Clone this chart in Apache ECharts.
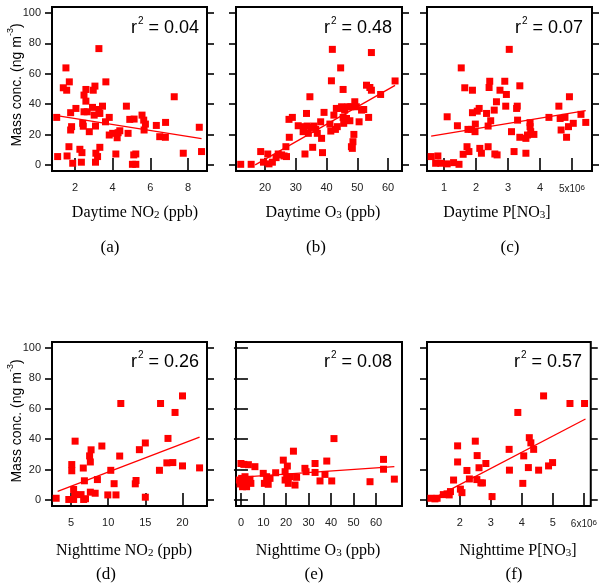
<!DOCTYPE html>
<html><head><meta charset="utf-8">
<script src="https://cdn.jsdelivr.net/npm/echarts@6/dist/echarts.min.js"></script>
<style>html,body{margin:0;padding:0;background:#fff}#c{width:600px;height:584px}</style>
</head><body><div id="c"></div>
<script>
// ---------- DATA ----------
const dayNO2 = [[1.03,31.3],[1.08,5.5],[1.52,63.9],[1.38,50.8],[1.56,49.2],[1.70,54.7],[1.58,5.9],[1.68,12],[1.77,34.4],[1.82,25.2],[1.77,23],[1.88,1.1],[2.05,37.2],[2.26,10.3],[2.37,8.1],[2.34,1.8],[2.41,27.4],[2.44,25.5],[2.48,35],[2.48,46],[2.58,49.7],[2.58,42],[2.65,35],[2.76,21.9],[2.93,37.9],[2.97,49.2],[3.06,51.9],[3.02,32.8],[3.09,25.6],[3.11,7.7],[3.09,1.8],[3.20,5.5],[3.27,76.6],[3.27,36.5],[3.32,33.9],[3.32,11.6],[3.46,38.7],[3.64,54.7],[3.62,28.4],[3.82,31.3],[3.82,19.7],[4.0,20.8],[4.17,7.2],[4.24,17.9],[4.29,21.2],[4.38,22.5],[4.73,38.7],[4.82,20.8],[4.91,30],[5.05,0.4],[5.14,30.2],[5.12,6.6],[5.23,7.2],[5.23,0.4],[5.56,32.8],[5.65,29.5],[5.67,23],[5.74,26.9],[6.32,26],[6.50,18.6],[6.80,18.2],[6.81,28],[7.27,44.9],[7.75,7.7],[8.6,24.8],[8.72,8.8]];
const dayO3 = [[12.1,0.4],[15.5,0.4],[18.6,8.8],[19.5,1.8],[20.9,7.2],[21.3,0.7],[22.4,1.8],[23.6,4.8],[24.3,7.2],[25.4,6.6],[26.2,5.9],[26.8,12],[27.0,5.5],[27.9,18.2],[27.8,30],[28.9,31.3],[30.8,25.8],[32.4,21.9],[33.0,7.2],[32.6,25.2],[33.5,33.9],[33.7,25.6],[34.1,20.8],[34.6,44.9],[34.9,24.7],[35.5,11.6],[35.9,25.6],[36.5,23.4],[37.0,20.8],[38.1,28.4],[38.4,17.5],[38.7,8.1],[39.2,34.6],[41.1,26.9],[41.4,22.3],[41.6,55.4],[41.9,76.1],[42.4,32.8],[42.9,23.4],[43.2,37.2],[43.5,25.2],[44.3,37.2],[44.6,63.9],[44.9,38.3],[45.4,49.7],[45.4,31.3],[45.6,27.4],[45.9,36.1],[46.5,30.6],[47.0,38.3],[47.6,29.1],[47.9,38.3],[48.1,12],[48.4,10.9],[48.6,15.3],[48.9,20.1],[49.2,41.6],[49.7,38.3],[50.6,28.4],[51.4,36.1],[52.1,36.5],[53.0,52.5],[53.7,31.3],[54.1,51],[54.6,74],[54.6,49.2],[57.6,46.4],[62.3,55.3]];
const dayPNO3 = [[0.60,5.5],[0.74,1.1],[0.81,5.9],[0.90,1.1],[1.10,0.7],[1.10,31.7],[1.30,1.5],[1.42,25.8],[1.47,0.4],[1.54,63.9],[1.60,7],[1.65,50.8],[1.72,12],[1.75,23.4],[1.78,8.8],[1.86,23.4],[1.89,49.2],[1.89,34.4],[1.97,21.9],[1.98,26.9],[2.04,35.4],[2.10,37.2],[2.12,10.9],[2.17,7.7],[2.33,33.9],[2.38,25.6],[2.38,12],[2.41,51],[2.43,55.1],[2.46,29.1],[2.57,36.1],[2.59,7.2],[2.64,41.6],[2.66,6.6],[2.75,49.2],[2.90,55.1],[2.93,38.7],[2.95,46.4],[3.04,76.1],[3.11,21.9],[3.19,8.8],[3.27,37.2],[3.29,38.7],[3.30,29.5],[3.37,52.1],[3.37,18.2],[3.56,7.7],[3.56,17.5],[3.61,19.7],[3.69,27.8],[3.69,25.2],[3.71,21.9],[3.81,20.1],[4.28,31.3],[4.59,38.7],[4.63,30.6],[4.66,23],[4.78,31.3],[4.83,18.2],[4.89,25.2],[4.92,44.9],[5.04,27.4],[5.28,33.3],[5.43,28]];
const nightNO2 = [[3.0,1.1],[4.7,0.3],[5.1,23.3],[5.1,19.2],[5.35,6.9],[5.35,0.3],[5.55,38.7],[5.5,3.5],[6.35,3.5],[6.7,0.3],[6.65,21],[6.8,12.6],[6.95,0.8],[7.5,29],[7.6,25],[7.7,33],[7.6,5.1],[8.25,4.4],[8.55,13.4],[9.15,35.5],[9.95,3.3],[10.35,19.5],[10.8,10.7],[11.05,3.3],[11.55,28.9],[11.7,63.5],[13.65,10.6],[13.75,12.8],[14.2,33.1],[15.0,37.5],[15.0,1.8],[16.9,19.5],[17.05,63.5],[17.9,24.4],[18.05,40.5],[18.7,24.6],[19.0,57.6],[20.0,68.5],[20.0,22.4],[22.3,21.1]];
const nightO3 = [[0,24],[1.3,23.4],[3.3,23.2],[6.2,21.9],[-0.7,13.1],[-0.4,10.5],[0.3,14.2],[1.0,10.9],[1.8,15.3],[2.5,8.7],[3.3,12],[4.0,13.6],[4.4,10.9],[2.2,12.5],[0.7,8.7],[9.9,17.5],[10.4,10.9],[11.4,15.3],[12.1,10.3],[12.9,14.2],[15.4,17.9],[18.8,26.2],[19.6,18.6],[20.6,22.3],[20.3,14.2],[19.6,13.1],[21.0,10.9],[21.8,15.3],[23.3,32.1],[24.0,9.8],[24.7,14.9],[28.4,20.8],[28.9,18.6],[32.9,24],[32.9,18.1],[35.1,12.5],[37.3,16.8],[38.1,25.6],[40.3,12.5],[41.3,40.4],[57.3,12],[63.3,26.7],[63.3,20.2],[68.1,13.7]];
const nightPNO3 = [[1.07,1.1],[1.2,0.7],[1.27,1.1],[1.47,3.5],[1.59,4.0],[1.66,3.3],[1.70,5.5],[1.80,13.1],[1.93,35.6],[1.93,25],[2.02,7.1],[2.07,4.8],[2.23,19.4],[2.31,13.8],[2.5,38.7],[2.55,13.4],[2.56,29.2],[2.62,21.2],[2.68,11.2],[2.73,11.2],[2.84,24],[3.04,2.2],[3.59,33.3],[3.60,19.6],[3.87,57.6],[4.03,10.9],[4.06,29.0],[4.21,21.3],[4.24,41],[4.29,37.6],[4.38,33.3],[4.54,19.6],[4.70,68.5],[4.86,22.4],[4.99,24.6],[5.55,63.5],[6.02,63.5]];

const fitDayNO2 = [[1.03,32.4],[8.72,17.3]];
const fitDayO3 = [[16.8,0],[62.3,52.4]];
const fitDayPNO3 = [[0.60,19.0],[5.43,35.7]];
const fitNightNO2 = [[3.2,5.7],[22.3,41.4]];
const fitNightO3 = [[-1.2,14.9],[68.1,21.9]];
const fitNightPNO3 = [[1.2,1.5],[6.05,53.3]];

const r2Values = ['0.04','0.48','0.07','0.26','0.08','0.57'];
const yTicks = [0,20,40,60,80,100];
const xTicksDayNO2 = [2,4,6,8];
const xTicksDayO3 = [20,30,40,50,60];
const xTicksDayPNO3 = [1,2,3,4,5];
const xTicksNightNO2 = [5,10,15,20];
const xTicksNightO3 = [0,10,20,30,40,50,60];
const xTicksNightPNO3 = [2,3,4,5,6];
const xTitles = [
  ['Daytime NO','2',' (ppb)'],
  ['Daytime O','3',' (ppb)'],
  ['Daytime P[NO','3',']'],
  ['Nighttime NO','2',' (ppb)'],
  ['Nighttime O','3',' (ppb)'],
  ['Nighttime P[NO','3',']']
];
const captions = ['(a)','(b)','(c)','(d)','(e)','(f)'];
const yTitle = ['Mass conc. (ng m','-3',')'];

// ---------- LAYOUT ----------
const panels = [
  {data:dayNO2, fit:fitDayNO2, xTicks:xTicksDayNO2, exp:null, left:52, top:7, width:155, xMin:0.78, xMax:9.01, r2x:199, titleX:135, capX:110},
  {data:dayO3, fit:fitDayO3, xTicks:xTicksDayO3, exp:null, left:236, top:7, width:166, xMin:10.57, xMax:64.55, r2x:392, titleX:323, capX:316},
  {data:dayPNO3, fit:fitDayPNO3, xTicks:xTicksDayPNO3, exp:5, left:427, top:7, width:165, xMin:0.47, xMax:5.625, r2x:583, titleX:497, capX:510},
  {data:nightNO2, fit:fitNightNO2, xTicks:xTicksNightNO2, exp:null, left:52, top:342, width:155, xMin:2.44, xMax:23.3, r2x:199, titleX:124, capX:106},
  {data:nightO3, fit:fitNightO3, xTicks:xTicksNightO3, exp:null, left:236, top:342, width:166, xMin:-2.2, xMax:71.5, r2x:392, titleX:318, capX:314},
  {data:nightPNO3, fit:fitNightPNO3, xTicks:xTicksNightPNO3, exp:6, left:427, top:342, width:165, xMin:0.944, xMax:6.22, r2x:582, titleX:518, capX:514}
];
const H = 164, Y_MIN = -4, Y_MAX = 104;
const SANS = 'Liberation Sans, Arial, sans-serif';
const SERIF = 'Liberation Serif, Times New Roman, serif';
const RED = '#ff0000';

const grids = [], xAxes = [], yAxes = [], series = [], graphics = [];
const tickStyle = {color:'#000', width:1.6};

panels.forEach((p, i) => {
  grids.push({left:p.left, top:p.top, width:p.width, height:H, show:true, borderColor:'#000', borderWidth:2, backgroundColor:'transparent'});
  const xb = {type:'value', gridIndex:i, min:p.xMin, max:p.xMax, splitLine:{show:false}, axisLine:{show:false},
    axisTick:{show:true, inside:false, length:7, lineStyle:tickStyle, customValues:p.xTicks}};
  xAxes.push(Object.assign({}, xb, {position:'bottom',
    axisLabel:{show:true, customValues:p.xTicks, margin:11, fontSize:11, color:'#222', fontFamily:SANS,
      formatter: v => (p.exp !== null && Math.abs(v - p.exp) < 1e-9) ? '{e|' + p.exp + 'x10}{s|6}' : String(v),
      rich:{e:{fontSize:10, color:'#222', fontFamily:SANS, lineHeight:12, verticalAlign:'bottom', padding:[6,0,0,0]},
            s:{fontSize:8, color:'#222', fontFamily:SANS, lineHeight:9, verticalAlign:'top', padding:[2,0,0,0]}}}}));
  xAxes.push(Object.assign({}, xb, {position:'top', axisLabel:{show:false}}));
  const yb = {type:'value', gridIndex:i, min:Y_MIN, max:Y_MAX, splitLine:{show:false}, axisLine:{show:false},
    axisTick:{show:true, inside:false, length:7, lineStyle:tickStyle, customValues:yTicks}};
  yAxes.push(Object.assign({}, yb, {position:'left',
    axisLabel:{show:(i % 3 === 0), customValues:yTicks, margin:11, fontSize:11, color:'#222', fontFamily:SANS}}));
  yAxes.push(Object.assign({}, yb, {position:'right', axisLabel:{show:false}}));

  series.push({type:'scatter', xAxisIndex:2*i, yAxisIndex:2*i, data:p.data, symbol:'rect', symbolSize:7,
    itemStyle:{color:RED, opacity:1}, silent:true, z:3});
  series.push({type:'line', xAxisIndex:2*i, yAxisIndex:2*i, data:p.fit, showSymbol:false, symbol:'none',
    lineStyle:{color:RED, width:1.3}, silent:true, z:4});

  const row = i < 3 ? 0 : 1;
  graphics.push({type:'text', x:p.r2x, y:(row ? 349.5 : 15), z:10,
    style:{text:'{b|r}{s|2}{b| = ' + r2Values[i] + '}', align:'right', verticalAlign:'top',
      rich:{b:{fontSize:18, fontFamily:SANS, fill:'#000', lineHeight:22, verticalAlign:'bottom'},
            s:{fontSize:10, fontFamily:SANS, fill:'#000', lineHeight:10, verticalAlign:'top', padding:[1,0,0,1]}}}});
  const t = xTitles[i];
  graphics.push({type:'text', x:p.titleX, y:(row ? 549 : 211), z:10,
    style:{text:'{t|' + t[0] + '}{u|' + t[1] + '}{t|' + t[2] + '}', align:'center', verticalAlign:'middle',
      rich:{t:{fontSize:16, fontFamily:SERIF, fill:'#000', lineHeight:20, verticalAlign:'bottom'},
            u:{fontSize:11, fontFamily:SERIF, fill:'#000', lineHeight:11, verticalAlign:'bottom'}}}});
  graphics.push({type:'text', x:p.capX, y:(row ? 575 : 248), z:10,
    style:{text:captions[i], align:'center', verticalAlign:'middle', fontSize:17, fontFamily:SERIF, fill:'#000'}});
});

[85, 421].forEach(cy => {
  graphics.push({type:'text', x:15, y:cy, rotation:Math.PI/2, z:10,
    style:{text:'{t|' + yTitle[0] + '}{s|' + yTitle[1] + '}{t|' + yTitle[2] + '}', align:'center', verticalAlign:'middle',
      rich:{t:{fontSize:14, fontFamily:SANS, fill:'#000', lineHeight:18, verticalAlign:'bottom'},
            s:{fontSize:9, fontFamily:SANS, fill:'#000', lineHeight:9, verticalAlign:'top'}}}});
});

const chart = echarts.init(document.getElementById('c'), null, {renderer:'canvas'});
chart.setOption({animation:false, backgroundColor:'#fff', grid:grids, xAxis:xAxes, yAxis:yAxes, series:series, graphic:graphics});
</script></body></html>
